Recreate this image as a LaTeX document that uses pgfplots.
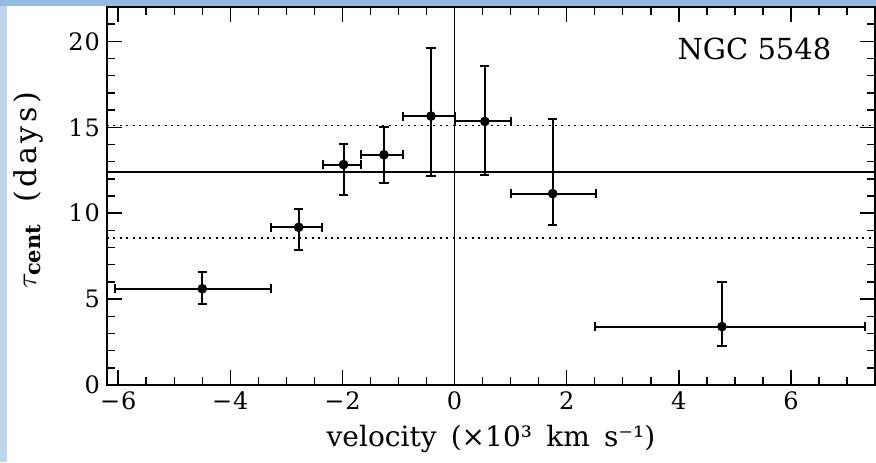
\documentclass[border=0pt]{standalone}
\usepackage{fontspec}
\setmainfont{DejaVu Serif}
\newfontfamily\labelfont{DejaVu Serif}[WordSpace=1.6]
\newfontfamily\ylabelfont{DejaVu Serif}[LetterSpace=12,WordSpace=1.6]
\newfontfamily\tickfont{DejaVu Serif}[LetterSpace=4]
\usepackage{pgfplots}
\pgfplotsset{compat=1.18}
\usepackage{pgfplotstable}
\definecolor{topblue}{RGB}{148,186,222}
\definecolor{leftblue}{RGB}{189,214,238}
\pgfplotstableread{
x y xm xp ym yp
-4.50 5.60 1.55 1.23 0.87 0.97
-2.78 9.18 0.49 0.42 1.30 1.09
-1.98 12.83 0.37 0.31 1.80 1.17
-1.26 13.40 0.41 0.34 1.63 1.61
-0.42 15.65 0.50 0.42 3.50 3.95
0.54 15.34 0.54 0.47 3.13 3.21
1.75 11.14 0.74 0.77 1.84 4.36
4.77 3.40 2.26 2.56 1.11 2.59
}\datatable
\begin{document}
\begin{tikzpicture}
\path[use as bounding box] (-53.5pt,-38.5pt) rectangle (384.5pt,192.5pt);
\begin{axis}[
  at={(0pt,0pt)}, anchor=south west,
  scale only axis, width=384pt, height=189pt,
  xmin=-6.2, xmax=7.5, ymin=0, ymax=22,
  xtick={-6,-4,-2,0,2,4,6},
  xticklabels={−6,−4,−2,0,2,4,6},
  minor xtick={-6,-5.5,...,7.5},
  ytick={0,5,10,15,20},
  yticklabels={0,5,10,15,20},
  minor ytick={0,1,...,22},
  tick align=inside,
  major tick length=7.5pt, minor tick length=4pt,
  every tick/.style={black, line width=0.75pt},
  axis line style={line width=0.9pt},
  tick label style={font=\fontsize{12}{14}\tickfont},
  /pgf/number format/assume math mode=true,
  xlabel={velocity (×10³ km s⁻¹)},
  ylabel={$\tau_{\mathbf{cent}}$ (days)},
  xlabel style={font=\fontsize{14}{16}\labelfont, yshift=-0.5pt},
  ylabel style={font=\fontsize{15}{17}\ylabelfont, yshift=6pt, xshift=3pt},
  clip=true,
]
\addplot[black, line width=0.9pt] coordinates {(-6.2,12.39) (7.5,12.39)};
\addplot[black, line width=0.8pt, dash pattern=on 1pt off 2.2pt] coordinates {(-6.2,15.11) (7.5,15.11)};
\addplot[black, line width=0.8pt, dash pattern=on 1pt off 2.2pt] coordinates {(-6.2,8.56) (7.5,8.56)};
\addplot[black, line width=0.9pt] coordinates {(0,0) (0,22)};
\addplot[only marks, mark=*, mark size=2.2pt, black,
  error bars/.cd,
  x dir=both, x explicit, y dir=both, y explicit,
  error bar style={line width=1pt, black},
  error mark options={line width=1pt, mark size=2.3pt, black, rotate=90},
] table[x=x, y=y, x error minus=xm, x error plus=xp, y error minus=ym, y error plus=yp] {\datatable};
\node[font=\fontsize{14.5}{16}\selectfont] at (axis cs:5.35,19.55) {NGC 5548};
\end{axis}
\fill[topblue] (-53.5pt,189.5pt) rectangle (384.5pt,192.5pt);
\fill[leftblue] (-53.5pt,-38.5pt) rectangle (-50pt,189.5pt);
\end{tikzpicture}
\end{document}
